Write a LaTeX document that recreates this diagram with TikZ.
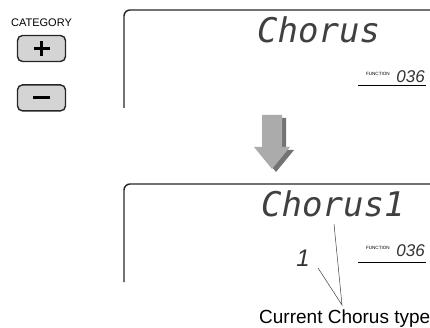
\documentclass[tikz,border=0pt]{standalone}
\usepackage{fontspec}
\setmainfont{Liberation Sans}
\newfontfamily\lcdfont{DejaVu Sans Mono}
\usetikzlibrary{positioning}

\begin{document}
\begin{tikzpicture}[x=1pt, y=-1pt,
    button/.style={draw=black!85, line width=1.4pt, fill=black!17, rounded corners=5pt, minimum width=48pt, minimum height=26pt},
    panel/.style={draw=black!85, line width=1.4pt, rounded corners=6pt},
    lcd/.style={font=\lcdfont\itshape\fontsize{34}{34}\selectfont, text=black!75, inner sep=0pt, anchor=base west},
    tiny/.style={font=\fontsize{4.6}{5}\selectfont, inner sep=0pt, anchor=base east},
    segnum/.style={font=\itshape\fontsize{17}{17}\selectfont, text=black!80, inner sep=0pt, anchor=base east},
    pointer/.style={draw=black!75, line width=0.5pt}]
    \clip (0,0) rectangle (430,328);

    \node[font=\fontsize{11}{11}\selectfont, anchor=base] (category) at (41.5,27) {CATEGORY};
    \node[button]                      (btnplus)  at (41.5,48.5) {};
    \node[button, below=22pt of btnplus] (btnminus) {};
    \draw[line width=3pt] ([xshift=-8pt]btnplus.center) -- ([xshift=8pt]btnplus.center)
                          ([yshift=-7.5pt]btnplus.center) -- ([yshift=7.5pt]btnplus.center);
    \draw[line width=3pt] ([xshift=-8.5pt]btnminus.center) -- ([xshift=8.5pt]btnminus.center);

    \draw[panel] (124,108) |- (440,10);
    \draw[panel] (124,282) |- (440,184);

    % arrow with its shadow
    \fill[black!55, shift={(4,3)}] (262,115) -- (282,115) -- (282,147) -- (290,147) -- (272,169) -- (254,147) -- (262,147) -- cycle;
    \fill[black!33] (262,115) -- (282,115) -- (282,147) -- (290,147) -- (272,169) -- (254,147) -- (262,147) -- cycle;

    \node[lcd]    (lcdtop) at (257,43) {Chorus};
    \node[tiny]   (fntop)  at (390,76) {FUNCTION};
    \node[segnum] (numtop) at (425,83) {036};
    \draw[line width=0.8pt] (358,85) -- (426,85);

    \node[lcd]    (lcdbot) at (261,217) {Chorus1};
    \node[segnum, font=\itshape\fontsize{24}{24}\selectfont] (digit) at (310,266) {1};
    \node[tiny]   (fnbot)  at (390,249) {FUNCTION};
    \node[segnum] (numbot) at (425,256) {036};
    \draw[line width=0.8pt] (358,262) -- (426,262);

    \node[font=\fontsize{19}{19}\selectfont, anchor=base west, inner sep=0pt] (curtype) at (259,323) {Current Chorus type};
    \coordinate (apex)     at (342,305);
    \coordinate (digitend) at (318,268);
    \coordinate (lcdend)   at (334,224);
    \draw[pointer] (digitend) -- (apex) -- (lcdend);
\end{tikzpicture}
\end{document}
